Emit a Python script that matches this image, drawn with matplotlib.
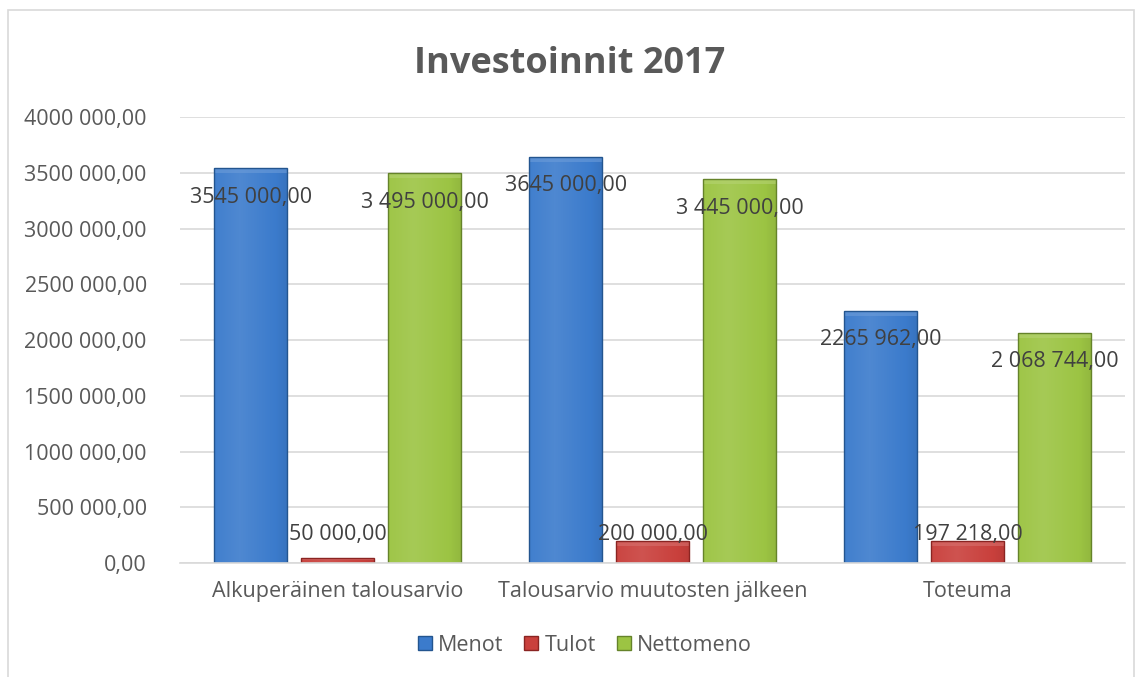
import matplotlib.pyplot as plt
import matplotlib.colors as mcolors
import numpy as np
from matplotlib.patches import Rectangle, Patch

categories = ["Alkuperäinen talousarvio", "Talousarvio muutosten jälkeen", "Toteuma"]
series = ["Menot", "Tulot", "Nettomeno"]
menot = [3545000, 3645000, 2265962]
tulot = [50000, 200000, 197218]
nettomeno = [3495000, 3445000, 2068744]
menot_labels = ["3545 000,00", "3645 000,00", "2265 962,00"]
tulot_labels = ["50 000,00", "200 000,00", "197 218,00"]
nettomeno_labels = ["3 495 000,00", "3 445 000,00", "2 068 744,00"]
yticks = [0, 500000, 1000000, 1500000, 2000000, 2500000, 3000000, 3500000, 4000000]
ytick_labels = ["0,00", "500 000,00", "1000 000,00", "1500 000,00", "2000 000,00",
                "2500 000,00", "3000 000,00", "3500 000,00", "4000 000,00"]

colors = {"Menot": "#3b7bcc", "Tulot": "#c9403c", "Nettomeno": "#9cc443"}
edges = {"Menot": "#23558f", "Tulot": "#8a2422", "Nettomeno": "#65832a"}

plt.rcParams["font.family"] = ["Open Sans", "DejaVu Sans"]
TEXT = "#595959"
FS = 15.5

fig = plt.figure(figsize=(11.4, 6.77), dpi=100)
ax = fig.add_axes([0.158, 0.168, 0.829, 0.659])

x = np.arange(len(categories))
width = 0.23
offset = 0.276


def shade(c, f):
    r, g, b = mcolors.to_rgb(c)
    if f >= 0:
        return (r + (1 - r) * f, g + (1 - g) * f, b + (1 - b) * f)
    return (r * (1 + f), g * (1 + f), b * (1 + f))


def bevel_bars(bars, color, edge):
    # horizontal gradient clipped to each bar, for the office "bevel" look
    grad = np.linspace(0, 1, 64)
    prof = 1 - 0.35 * np.abs(grad - 0.35) * 2
    cmap = mcolors.LinearSegmentedColormap.from_list("g", [shade(color, -0.2), color, shade(color, 0.1)])
    for b in bars:
        x0, y0, w, h = b.get_x(), b.get_y(), b.get_width(), b.get_height()
        im = ax.imshow(prof[None, :], extent=[x0, x0 + w, y0, y0 + h], aspect="auto",
                       cmap=cmap, vmin=0.3, vmax=1, zorder=2.1, interpolation="bicubic")
        im.set_clip_path(b)
        top = min(h * 0.5, 45000)
        ax.add_patch(Rectangle((x0, y0 + h - top), w, top, facecolor=shade(color, 0.25),
                               edgecolor="none", alpha=0.6, zorder=2.2, clip_path=b))
        ax.add_patch(Rectangle((x0, y0), w, h, facecolor="none", edgecolor=edge,
                               linewidth=1.0, zorder=2.3))


for i, (name, vals) in enumerate(zip(series, [menot, tulot, nettomeno])):
    bars = ax.bar(x + (i - 1) * offset, vals, width, color=colors[name], zorder=2)
    bevel_bars(bars, colors[name], edges[name])

for xi, v, s in zip(x - offset, menot, menot_labels):
    ax.annotate(s, (xi, v), xytext=(0, -21), textcoords="offset points",
                ha="center", va="center", fontsize=FS, color="#404040", zorder=5)
for xi, s in zip(x, tulot_labels):
    ax.annotate(s, (xi, 0), xytext=(0, 21), textcoords="offset points",
                ha="center", va="center", fontsize=FS, color="#404040", zorder=5)
for xi, v, s in zip(x + offset, nettomeno, nettomeno_labels):
    ax.annotate(s, (xi, v), xytext=(0, -21), textcoords="offset points",
                ha="center", va="center", fontsize=FS, color="#404040", zorder=5)

ax.set_xlim(-0.5, 2.5)
ax.set_ylim(0, 4000000)
ax.set_yticks(yticks)
ax.set_yticklabels(ytick_labels)
ax.set_xticks(x)
ax.set_xticklabels(categories)
ax.tick_params(axis="both", length=0, labelsize=FS, colors=TEXT)
ax.tick_params(axis="y", pad=24)
ax.tick_params(axis="x", pad=13)
ax.grid(axis="y", color="#d9d9d9", linewidth=1.2, zorder=0)
ax.set_axisbelow(True)
for sp in ["left", "right", "top"]:
    ax.spines[sp].set_visible(False)
ax.spines["bottom"].set_color("#d9d9d9")
ax.spines["bottom"].set_linewidth(1.2)

fig.text(0.5, 0.905, "Investoinnit 2017", ha="center", va="center",
         fontsize=26, fontweight="bold", color=TEXT)

handles = [Patch(facecolor=colors[n], edgecolor=edges[n]) for n in series]
fig.legend(handles, series, loc="center", bbox_to_anchor=(0.513, 0.047), ncol=3,
           frameon=False, fontsize=FS, handlelength=0.65, handleheight=0.65,
           handletextpad=0.28, columnspacing=1.0, labelcolor=TEXT)

fig.patches.append(Rectangle((0.007, -0.02), 0.988, 1.005, transform=fig.transFigure,
                             facecolor="none", edgecolor="#d9d9d9", linewidth=1.2))

fig.savefig("out.png", dpi=100)
